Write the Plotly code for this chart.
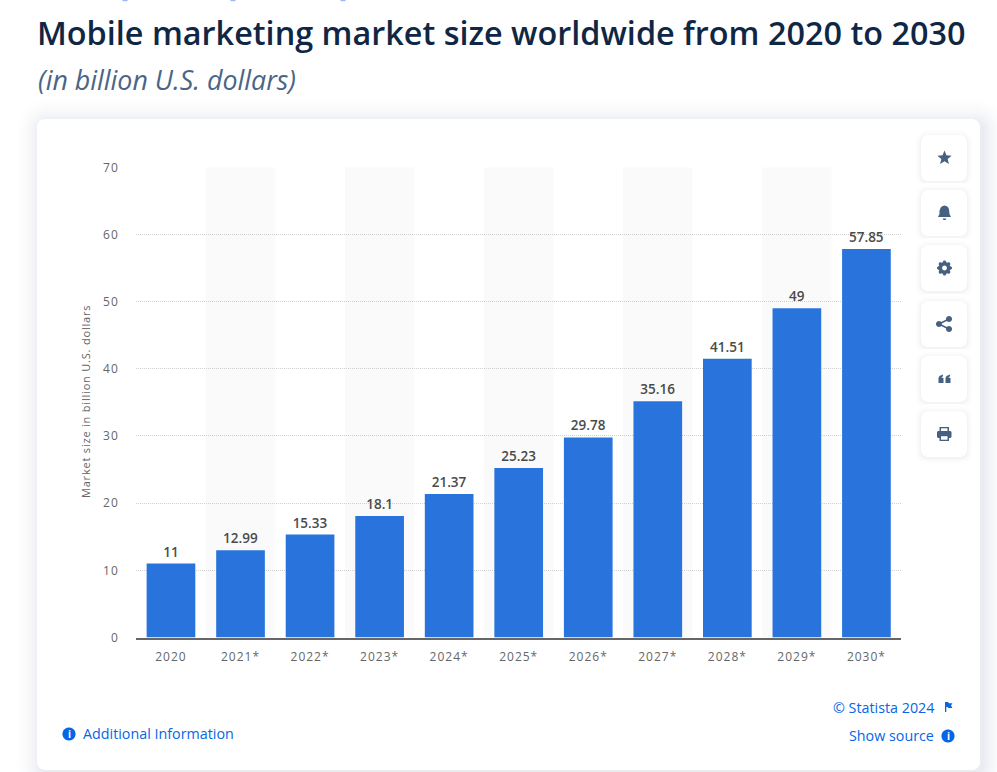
import math
import plotly.graph_objects as go

W, H = 997, 772

years = ["2020", "2021*", "2022*", "2023*", "2024*", "2025*", "2026*", "2027*", "2028*", "2029*", "2030*"]
market_size = [11, 12.99, 15.33, 18.1, 21.37, 25.23, 29.78, 35.16, 41.51, 49, 57.85]
y_ticks = [0, 10, 20, 30, 40, 50, 60, 70]

title_text = "Mobile marketing market size worldwide from 2020 to 2030"
subtitle_text = "(in billion U.S. dollars)"
y_title = "Market size in billion U.S. dollars"

BLUE = "#2874dc"
LINK = "#0666e5"
ICON = "#45617f"


# pixel helpers, page coordinates with the origin top left
def px(x):
    return x / W


def py(y):
    return 1 - y / H


def path_str(cmds):
    out = []
    for c in cmds:
        if c[0] == "Z":
            out.append("Z")
        else:
            out.append(f"{c[0]} {px(c[1]):.5f} {py(c[2]):.5f}")
    return " ".join(out)


def round_rect(x0, y0, x1, y1, r):
    cmds = []
    corners = [(x1 - r, y0 + r, -90), (x1 - r, y1 - r, 0), (x0 + r, y1 - r, 90), (x0 + r, y0 + r, 180)]
    for cx, cy, start in corners:
        for k in range(7):
            a = math.radians(start + k * 15)
            cmds.append(("L" if cmds else "M", cx + r * math.cos(a), cy + r * math.sin(a)))
    cmds.append(("Z",))
    return path_str(cmds)


def poly(points):
    cmds = [("M" if i == 0 else "L", p[0], p[1]) for i, p in enumerate(points)]
    cmds.append(("Z",))
    return path_str(cmds)


def circle_pts(cx, cy, r, n=20):
    return [(cx + r * math.cos(2 * math.pi * i / n), cy + r * math.sin(2 * math.pi * i / n)) for i in range(n)]


shapes = []


def fill_path(path, color, opacity=1):
    shapes.append(dict(type="path", xref="paper", yref="paper", path=path, fillcolor=color,
                       line=dict(width=0), opacity=opacity, layer="below"))


def fill_circle(cx, cy, r, color):
    fill_path(poly(circle_pts(cx, cy, r)), color)


def card(x0, y0, x1, y1, r, spread, edge, dx=0, dy=3):
    # opaque rects going from white to the edge colour stand in for the css box shadow
    for s in range(spread, 0, -1):
        t = (1 - s / spread) ** 2
        col = tuple(round(255 + (c - 255) * t) for c in edge)
        fill_path(round_rect(x0 - s + dx, y0 - s + dy, x1 + s + dx, y1 + s + dy, r + s), "rgb(%d,%d,%d)" % col)
    fill_path(round_rect(x0, y0, x1, y1, r), "#ffffff")


# main card
card(37, 119, 980, 770, 8, 28, (232, 235, 241), dx=3)

# alternating column bands
for i in range(len(years)):
    if i % 2 == 1:
        shapes.append(dict(type="rect", xref="x", yref="y", x0=i - 0.5, x1=i + 0.5, y0=0, y1=max(y_ticks),
                           fillcolor="#fafafa", line=dict(width=0), layer="below"))

# toolbar buttons
button_y = [158, 213, 268, 324, 379, 434]
for cy in button_y:
    card(921, cy - 23, 967, cy + 23, 7, 8, (240, 241, 245), dy=1)

# star
cy = button_y[0]
star = []
for i in range(10):
    r = 7.5 if i % 2 == 0 else 3.3
    a = -math.pi / 2 + i * math.pi / 5
    star.append((944.5 + r * math.cos(a), cy + r * math.sin(a)))
fill_path(poly(star), ICON)

# bell
cy = button_y[1]
bell = [(938, cy + 4), (939.5, cy + 1), (939.5, cy - 3)]
bell += [(944.5 + 4.6 * math.cos(a), cy - 3 + 4.4 * math.sin(a)) for a in [math.radians(d) for d in range(180, 361, 30)]]
bell += [(949.5, cy + 1), (951, cy + 4)]
fill_path(poly(bell), ICON)
fill_path(poly([(942.5, cy + 5.5), (946.5, cy + 5.5), (945.5, cy + 7), (943.5, cy + 7)]), ICON)

# gear
cy = button_y[2]
for k in range(8):
    a = k * math.pi / 4
    fill_circle(944.5 + 5.8 * math.cos(a), cy + 5.8 * math.sin(a), 1.7, ICON)
fill_circle(944.5, cy, 6, ICON)
fill_circle(944.5, cy, 2.4, "#ffffff")

# share
cy = button_y[3]
for a, b in [((939, cy), (949, cy - 5)), ((939, cy), (949, cy + 5))]:
    shapes.append(dict(type="line", xref="paper", yref="paper", x0=px(a[0]), y0=py(a[1]), x1=px(b[0]), y1=py(b[1]),
                       line=dict(color=ICON, width=1.5), layer="below"))
fill_circle(939, cy, 3, ICON)
fill_circle(949, cy - 5, 3, ICON)
fill_circle(949, cy + 5, 3, ICON)

# quotes
cy = button_y[4]
for x0 in (938.5, 945.5):
    fill_path(poly([(x0, cy + 4), (x0, cy - 1), (x0 + 1, cy - 3), (x0 + 4.5, cy - 4.5), (x0 + 4.5, cy - 2.8),
                    (x0 + 2.8, cy - 1.5), (x0 + 5, cy - 1), (x0 + 5, cy + 4)]), ICON)

# printer
cy = button_y[5]
fill_path(round_rect(937, cy - 3, 951.5, cy + 4, 1.5), ICON)
fill_path(poly([(939.5, cy - 7), (949, cy - 7), (949, cy - 2), (939.5, cy - 2)]), ICON)
fill_path(poly([(941, cy - 5.7), (947.5, cy - 5.7), (947.5, cy - 3), (941, cy - 3)]), "#ffffff")
fill_path(poly([(939.5, cy + 1), (949, cy + 1), (949, cy + 7), (939.5, cy + 7)]), ICON)
fill_path(poly([(941, cy + 2.2), (947.5, cy + 2.2), (947.5, cy + 5.7), (941, cy + 5.7)]), "#ffffff")

# footer icons
fill_circle(69, 734, 6.6, LINK)
fill_circle(948, 736, 6.6, LINK)
fill_path(poly([(945, 702), (948, 702), (949, 703.2), (952.5, 703.2), (951, 705.6), (952.5, 708), (948.5, 708),
                (947.5, 707), (946.3, 707), (946.3, 712), (945, 712)]), LINK)

# descenders of the nav text cut off by the top of the screenshot
for x in (125, 233, 343):
    fill_path(poly([(x - 3, 0), (x + 3, 0), (x + 2, 1.3), (x - 2, 1.3)]), "#9dbcf5")

fig = go.Figure()
fig.add_trace(go.Bar(
    x=list(range(len(years))),
    y=market_size,
    marker=dict(color=BLUE, line=dict(width=0)),
    width=0.7,
    text=[str(v) for v in market_size],
    textposition="outside",
    cliponaxis=False,
    textfont=dict(family="Open Sans", size=13.5, color="#4a4a4a", weight=600),
))


def note(text, x, y, size, color, anchor="left", family="Open Sans", **kw):
    return dict(text=text, x=px(x), y=py(y), xref="paper", yref="paper", showarrow=False,
                xanchor=anchor, yanchor="middle", font=dict(family=family, size=size, color=color), **kw)


annotations = [
    note(f"<i>{subtitle_text}</i>", 36, 79.5, 26.8, "#4a6585"),
    note(y_title, 86, 402, 11, "#666666", anchor="center", textangle=-90),
    note("Additional Information", 81, 733.5, 14.3, LINK),
    note("© Statista 2024", 936, 707, 14.3, LINK, anchor="right"),
    note("Show source", 936, 735.5, 14.3, LINK, anchor="right"),
    note("<b>i</b>", 69, 734, 10, "#ffffff", anchor="center"),
    note("<b>i</b>", 948, 736, 10, "#ffffff", anchor="center"),
]

fig.update_layout(
    width=W,
    height=H,
    margin=dict(l=0, r=0, t=0, b=0, autoexpand=False),
    paper_bgcolor="#ffffff",
    plot_bgcolor="rgba(0,0,0,0)",
    showlegend=False,
    title=dict(text=title_text, x=px(37), xanchor="left", y=py(34), yanchor="middle",
               font=dict(family="Open Sans", size=32.4, color="#0f2744", weight=600)),
    xaxis=dict(
        domain=[px(136.2), px(901.2)],
        range=[-0.5, len(years) - 0.5],
        tickmode="array",
        tickvals=list(range(len(years))),
        ticktext=years,
        ticks="outside",
        ticklen=7,
        tickcolor="rgba(0,0,0,0)",
        tickfont=dict(family="Open Sans", size=12, color="#666666"),
        showgrid=False,
        showline=True,
        linecolor="#666666",
        linewidth=2,
        zeroline=False,
    ),
    yaxis=dict(
        domain=[py(637.5), py(167.3)],
        range=[0, 70],
        tickmode="array",
        tickvals=y_ticks,
        ticks="outside",
        ticklen=14,
        tickcolor="rgba(0,0,0,0)",
        tickfont=dict(family="Open Sans", size=12, color="#666666"),
        showgrid=True,
        gridcolor="#d0d0d0",
        griddash="1px,1px",
        gridwidth=1,
        zeroline=False,
    ),
    shapes=shapes,
    annotations=annotations,
)

# plotly has no letter spacing setting, the reference text is tracked out a little
page_css = """
document.body.style.margin = '0';
var st = document.createElement('style');
st.textContent = '.xtick text, .ytick text {letter-spacing: 1px} .textpoint text {letter-spacing: 0.5px} '
    + '.annotation[data-index="1"] text {letter-spacing: 0.8px}';
document.head.appendChild(st);
"""
fig.write_html("out.html", post_script=page_css, config=dict(displayModeBar=False))
